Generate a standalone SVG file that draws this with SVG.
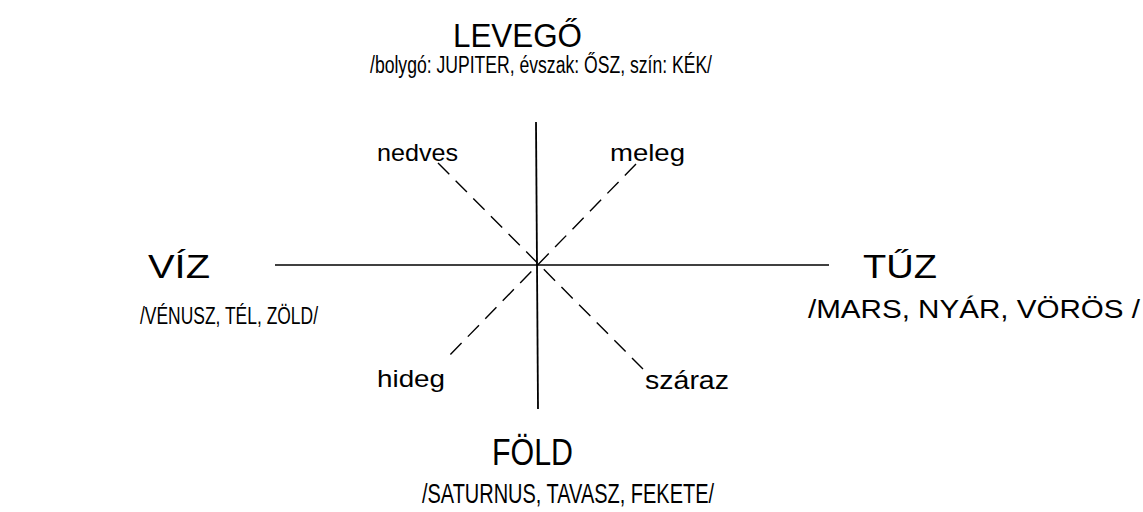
<svg xmlns="http://www.w3.org/2000/svg" width="1143" height="512" viewBox="0 0 1143 512">
<style>
text{font-family:"Liberation Sans","DejaVu Sans",sans-serif;fill:#000;}
.axis{stroke:#000;stroke-width:1.8;fill:none;}
.hax{stroke:#000;stroke-width:1.3;fill:none;}
.diag{stroke:#000;stroke-width:1.4;fill:none;stroke-dasharray:16 9;}
</style>
<rect width="1143" height="512" fill="#fff"/>
<g id="connectors">
<line class="axis" x1="536" y1="122" x2="538" y2="409"/>
<line class="hax" x1="275" y1="265" x2="829" y2="265"/>
<line class="diag" x1="438" y1="163" x2="643" y2="369"/>
<line class="diag" x1="636" y1="164" x2="447" y2="358"/>
</g>
<g id="levego">
<text x="453" y="47" font-size="34" textLength="129" lengthAdjust="spacingAndGlyphs">LEVEGŐ</text>
<text x="370" y="73" font-size="23" textLength="342" lengthAdjust="spacingAndGlyphs">/bolygó: JUPITER, évszak: ŐSZ, szín: KÉK/</text>
</g>
<g id="viz">
<text x="148" y="278" font-size="34" textLength="62" lengthAdjust="spacingAndGlyphs">VÍZ</text>
<text x="140" y="324" font-size="23" textLength="178" lengthAdjust="spacingAndGlyphs">/VÉNUSZ, TÉL, ZÖLD/</text>
</g>
<g id="tuz">
<text x="863" y="278" font-size="34" textLength="74" lengthAdjust="spacingAndGlyphs">TŰZ</text>
<text x="808" y="318" font-size="26" textLength="332" lengthAdjust="spacingAndGlyphs">/MARS, NYÁR, VÖRÖS /</text>
</g>
<g id="fold">
<text x="492" y="465" font-size="36" textLength="81" lengthAdjust="spacingAndGlyphs">FÖLD</text>
<text x="422" y="503" font-size="27" textLength="292" lengthAdjust="spacingAndGlyphs">/SATURNUS, TAVASZ, FEKETE/</text>
</g>
<g id="nedves"><text x="377" y="161" font-size="24" textLength="81" lengthAdjust="spacingAndGlyphs">nedves</text></g>
<g id="meleg"><text x="610" y="161" font-size="24" textLength="75" lengthAdjust="spacingAndGlyphs">meleg</text></g>
<g id="hideg"><text x="377" y="387" font-size="24" textLength="68" lengthAdjust="spacingAndGlyphs">hideg</text></g>
<g id="szaraz"><text x="645" y="389" font-size="25" textLength="84" lengthAdjust="spacingAndGlyphs">száraz</text></g>
</svg>
